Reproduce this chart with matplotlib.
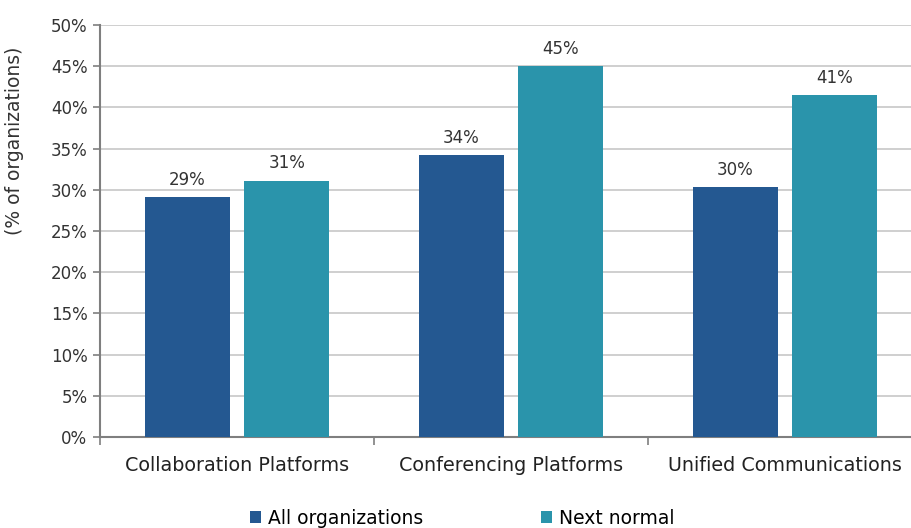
import numpy as np
import matplotlib.pyplot as plt

# Chart data
categories = ["Collaboration Platforms", "Conferencing Platforms", "Unified Communications"]
all_orgs = [29.1, 34.2, 30.3]
next_normal = [31.1, 45.0, 41.5]
all_labels = ["29%", "34%", "30%"]
next_labels = ["31%", "45%", "41%"]
series_names = ["All organizations", "Next normal"]

c_dark = "#245891"
c_teal = "#2a94ab"
grey = "#7f7f7f"

fig = plt.figure(figsize=(9.12, 5.28), dpi=100)
ax = fig.add_axes([100/912, (528-437)/528, 822/912, 412/528])

x = np.arange(len(categories))
w = 0.31
off = 0.182
b1 = ax.bar(x - off, all_orgs, w, color=c_dark, zorder=3, label=series_names[0])
b2 = ax.bar(x + off, next_normal, w, color=c_teal, zorder=3, label=series_names[1])

for rect, lab in zip(b1, all_labels):
    ax.text(rect.get_x() + rect.get_width()/2, rect.get_height() + 1.0, lab,
            ha="center", va="bottom", fontsize=12, color="#333333")
for rect, lab in zip(b2, next_labels):
    ax.text(rect.get_x() + rect.get_width()/2, rect.get_height() + 1.0, lab,
            ha="center", va="bottom", fontsize=12, color="#333333")

ax.set_xlim(-0.5, 2.5)
ax.set_ylim(0, 50)
ax.set_yticks(np.arange(0, 51, 5))
ax.set_yticklabels([f"{v}%" for v in range(0, 51, 5)], fontsize=12, color="#333333")
ax.yaxis.grid(True, color="#cccccc", linewidth=1.3, zorder=0)
ax.set_axisbelow(True)

# category ticks on boundaries, labels in the middle
ax.set_xticks([-0.5, 0.5, 1.5, 2.5])
ax.set_xticklabels([])
ax.set_xticks(x, minor=True)
ax.set_xticklabels(categories, minor=True, fontsize=13.8, color="#222222")
ax.tick_params(axis="x", which="minor", length=0, pad=14)
ax.tick_params(axis="x", which="major", length=6, color=grey, width=1.2)
ax.tick_params(axis="y", length=5, color=grey, width=1.2, pad=4)

for s in ["top", "right"]:
    ax.spines[s].set_visible(False)
for s in ["left", "bottom"]:
    ax.spines[s].set_color(grey)
    ax.spines[s].set_linewidth(1.5)

ax.set_ylabel("(% of organizations)", fontsize=13.5, color="#333333")
ax.yaxis.set_label_coords(-0.092, 0.718)

fig.legend(handles=[b1, b2], labels=series_names, loc="center",
           bbox_to_anchor=(0.5 + 6/912, 10/528), ncol=2, frameon=False,
           fontsize=13.5, handlelength=0.6, handleheight=0.6,
           handletextpad=0.35, columnspacing=6.3)

fig.savefig("out.png", dpi=100)
